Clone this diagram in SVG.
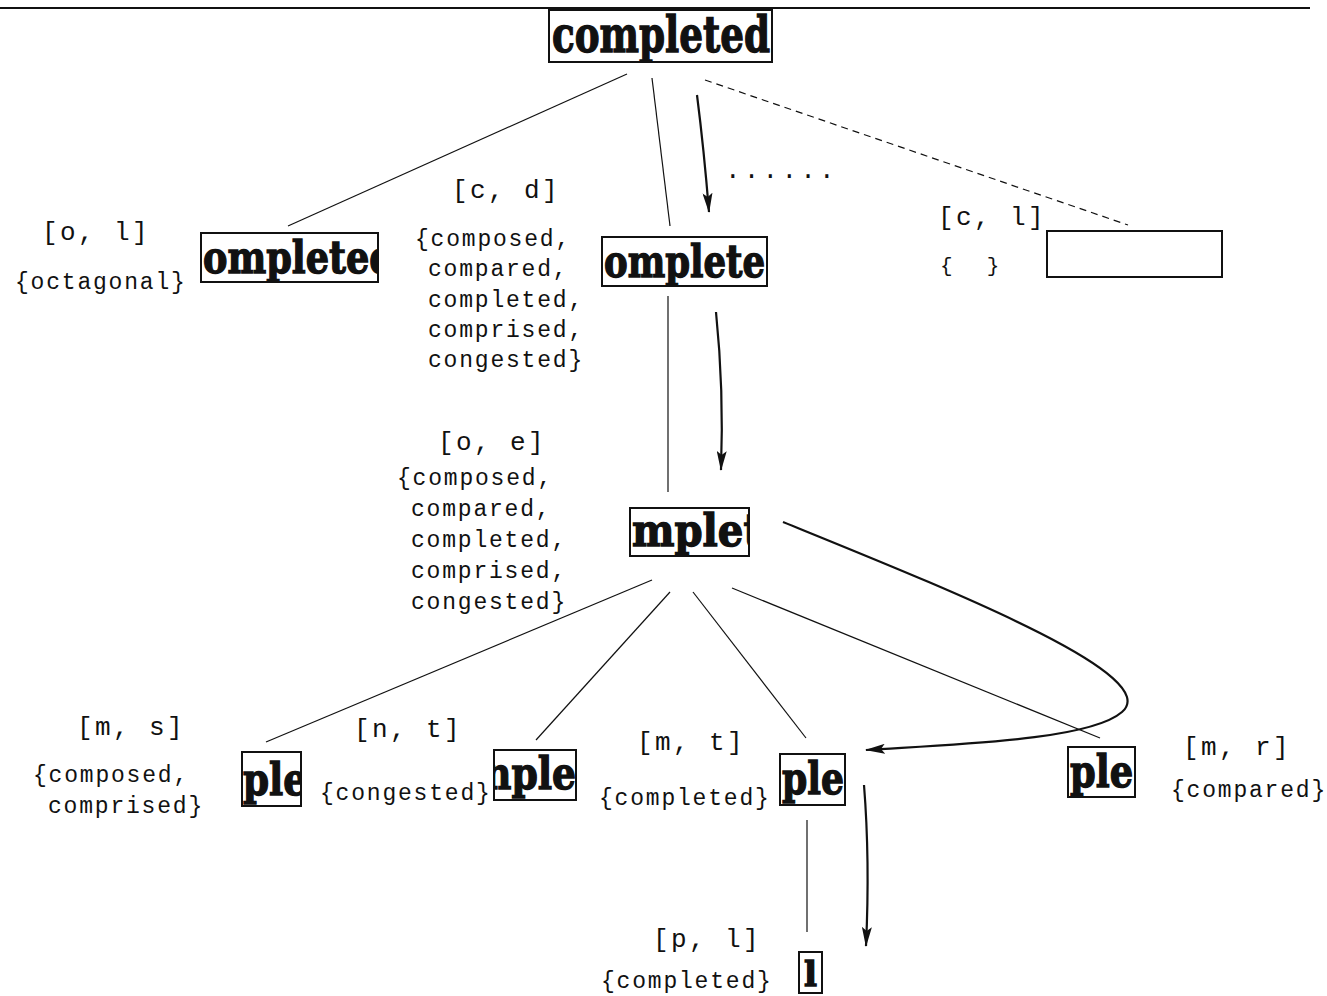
<svg xmlns="http://www.w3.org/2000/svg" width="1327" height="996" viewBox="0 0 1327 996">
<style>
.lbl{font-family:"Liberation Mono","Courier New",monospace;font-size:26px;letter-spacing:2.4px;fill:#111}
.set{font-family:"Liberation Mono","Courier New",monospace;font-size:23px;letter-spacing:1.8px;fill:#111}
.word{font-family:"DejaVu Serif","Liberation Serif",serif;font-weight:bold;fill:#111;stroke:#111;stroke-width:1.4px}
.box{fill:#fff;stroke:#111;stroke-width:2}
.ln{fill:none;stroke:#111;stroke-width:1.2}
.arr{fill:none;stroke:#111;stroke-width:2.2;marker-end:url(#ah)}
</style>
<defs>
<marker id="ah" viewBox="0 0 20 10" refX="19" refY="5" markerWidth="20" markerHeight="10" markerUnits="userSpaceOnUse" orient="auto">
<path d="M0,0 L20,5 L0,10 L4,5 Z" fill="#111"/>
</marker>
<clipPath id="c1"><rect x="549" y="10" width="223" height="52"/></clipPath>
<clipPath id="c2"><rect x="201" y="233" width="177" height="49"/></clipPath>
<clipPath id="c3"><rect x="602" y="237" width="165" height="49"/></clipPath>
<clipPath id="c4"><rect x="630" y="508" width="119" height="48"/></clipPath>
<clipPath id="c5"><rect x="242" y="752" width="59" height="54"/></clipPath>
<clipPath id="c6"><rect x="494" y="750" width="82" height="50"/></clipPath>
<clipPath id="c7"><rect x="780" y="754" width="65" height="51"/></clipPath>
<clipPath id="c8"><rect x="1068" y="747" width="67" height="50"/></clipPath>
</defs>
<rect width="1327" height="996" fill="#fff"/>
<line x1="0" y1="8" x2="1310" y2="8" stroke="#111" stroke-width="2"/>

<g id="connectors">
<line class="ln" x1="627" y1="74" x2="288" y2="226"/>
<line class="ln" x1="652" y1="78" x2="670" y2="226"/>
<line class="ln" x1="705" y1="80" x2="1128" y2="225" stroke-dasharray="7,5"/>
<line class="ln" x1="668" y1="296" x2="668" y2="492"/>
<line class="ln" x1="652" y1="580" x2="266" y2="742"/>
<line class="ln" x1="670" y1="592" x2="536" y2="740"/>
<line class="ln" x1="693" y1="592" x2="806" y2="738"/>
<line class="ln" x1="732" y1="588" x2="1100" y2="738"/>
<line class="ln" x1="807" y1="820" x2="807" y2="932"/>
<path class="arr" d="M697,95 Q704,150 709,212"/>
<path class="arr" d="M716,312 Q724,390 721,470"/>
<path class="arr" d="M783,522 C950,590 1165,675 1122,712 C1090,740 960,744 866,750"/>
<path class="arr" d="M864,785 Q870,860 866,946"/>
<text class="lbl" x="725" y="178" style="letter-spacing:3.2px">......</text>
</g>

<g id="n-completed">
<rect class="box" x="549" y="10" width="223" height="52"/>
<text class="word" clip-path="url(#c1)" x="552" y="52" font-size="50" textLength="218" lengthAdjust="spacingAndGlyphs">completed</text>
</g>

<g id="n-ol">
<text class="lbl" x="42" y="240">[o, l]</text>
<text class="set" x="15" y="289">{octagonal}</text>
<rect class="box" x="201" y="233" width="177" height="49"/>
<text class="word" clip-path="url(#c2)" x="203" y="273" font-size="44" textLength="192" lengthAdjust="spacingAndGlyphs">ompleted</text>
</g>

<g id="n-cd">
<text class="lbl" x="452" y="198">[c, d]</text>
<text class="set" x="415" y="246">{composed,</text>
<text class="set" x="428" y="276">compared,</text>
<text class="set" x="428" y="307">completed,</text>
<text class="set" x="428" y="337">comprised,</text>
<text class="set" x="428" y="367">congested}</text>
<rect class="box" x="602" y="237" width="165" height="49"/>
<text class="word" clip-path="url(#c3)" x="604" y="277" font-size="44" textLength="161" lengthAdjust="spacingAndGlyphs">omplete</text>
</g>

<g id="n-cl">
<text class="lbl" x="938" y="225">[c, l]</text>
<text class="set" x="940" y="272" xml:space="preserve" style="font-size:21px;letter-spacing:3px">{  }</text>
<rect class="box" x="1047" y="231" width="175" height="46"/>
</g>

<g id="n-oe">
<text class="lbl" x="438" y="450">[o, e]</text>
<text class="set" x="397" y="485">{composed,</text>
<text class="set" x="411" y="516">compared,</text>
<text class="set" x="411" y="547">completed,</text>
<text class="set" x="411" y="578">comprised,</text>
<text class="set" x="411" y="609">congested}</text>
<rect class="box" x="630" y="508" width="119" height="48"/>
<text class="word" clip-path="url(#c4)" x="632" y="546" font-size="44" textLength="130" lengthAdjust="spacingAndGlyphs">mplet</text>
</g>

<g id="n-ms">
<text class="lbl" x="77" y="735">[m, s]</text>
<text class="set" x="33" y="782">{composed,</text>
<text class="set" x="48" y="813">comprised}</text>
<rect class="box" x="242" y="752" width="59" height="54"/>
<text class="word" clip-path="url(#c5)" x="243" y="795" font-size="44" textLength="64" lengthAdjust="spacingAndGlyphs">ple</text>
</g>

<g id="n-nt">
<text class="lbl" x="354" y="737">[n, t]</text>
<text class="set" x="320" y="800">{congested}</text>
<rect class="box" x="494" y="750" width="82" height="50"/>
<text class="word" clip-path="url(#c6)" x="484" y="789" font-size="44" textLength="92" lengthAdjust="spacingAndGlyphs">nple</text>
</g>

<g id="n-mt">
<text class="lbl" x="637" y="750">[m, t]</text>
<text class="set" x="599" y="805">{completed}</text>
<rect class="box" x="780" y="754" width="65" height="51"/>
<text class="word" clip-path="url(#c7)" x="782" y="794" font-size="44" textLength="62" lengthAdjust="spacingAndGlyphs">ple</text>
</g>

<g id="n-mr">
<text class="lbl" x="1183" y="755">[m, r]</text>
<text class="set" x="1171" y="797">{compared}</text>
<rect class="box" x="1068" y="747" width="67" height="50"/>
<text class="word" clip-path="url(#c8)" x="1070" y="787" font-size="44" textLength="63" lengthAdjust="spacingAndGlyphs">ple</text>
</g>

<g id="n-pl">
<text class="lbl" x="653" y="947">[p, l]</text>
<text class="set" x="601" y="988">{completed}</text>
<rect class="box" x="799" y="952" width="23" height="41"/>
<text class="word" x="804" y="986" font-size="34" textLength="13" lengthAdjust="spacingAndGlyphs">l</text>
</g>
</svg>
